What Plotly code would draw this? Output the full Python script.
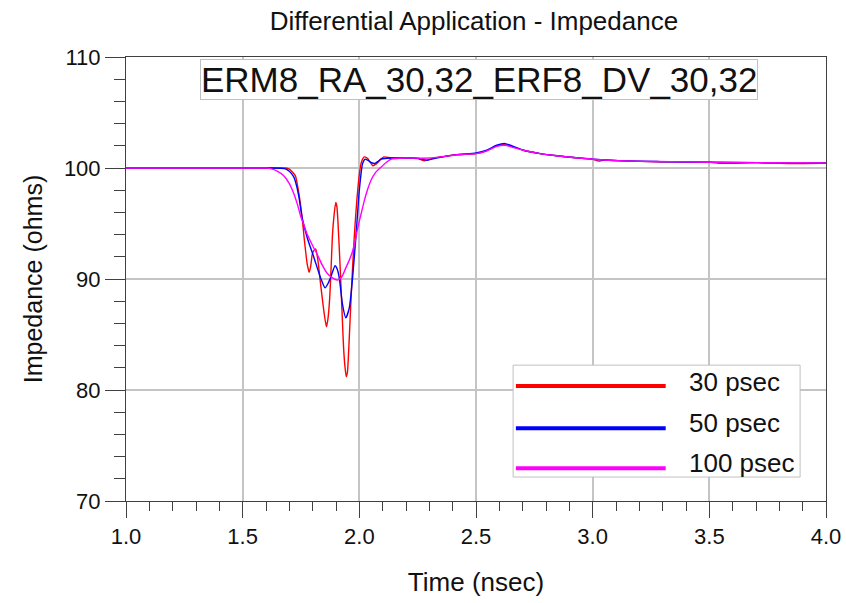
import plotly.graph_objects as go

# ---------------- data ----------------
series_names = ["30 psec", "50 psec", "100 psec"]
series_colors = ["#ff0000", "#0000ff", "#ff00ff"]

t_30 = [1.0, 1.6, 1.685, 1.70, 1.715, 1.726, 1.741, 1.755, 1.765, 1.777, 1.785, 1.792, 1.798, 1.806,
        1.813, 1.823, 1.832, 1.841, 1.850, 1.859, 1.866, 1.873, 1.879, 1.885, 1.892, 1.899, 1.904,
        1.909, 1.915, 1.921, 1.927, 1.932, 1.938, 1.944, 1.949, 1.954, 1.959, 1.964, 1.971, 1.978,
        1.986, 1.993, 2.0, 2.007, 2.015, 2.022, 2.036, 2.047, 2.058, 2.068, 2.079, 2.092, 2.105,
        2.137, 2.2, 2.25, 2.28, 2.31, 2.35, 2.417, 2.5, 2.546, 2.589, 2.625, 2.66, 2.703, 2.775,
        2.847, 2.918, 3.0, 3.026, 3.05, 3.133, 3.2, 3.277, 3.506, 3.55, 3.706, 3.85, 4.0]
z_30 = [100, 100, 100, 99.9, 99.6, 99.3, 97.7, 95.5, 93.4, 91.3, 90.6, 91.2, 92.2, 92.6,
        92.7, 91.6, 89.9, 88.3, 86.8, 85.7, 86.5, 88.3, 91.0, 94.0, 95.8, 96.9, 96.5,
        94.9, 92.3, 89.5, 86.5, 84.0, 82.2, 81.2, 81.6, 83.4, 85.7, 88.0, 91.0, 93.7,
        96.2, 98.0, 99.4, 100.4, 100.85, 101.0, 100.85, 100.5, 100.2, 100.3, 100.5, 100.8, 101.0,
        100.9, 100.9, 100.85, 100.65, 100.85, 101.0, 101.2, 101.3, 101.55, 102.0, 102.1, 101.9, 101.6, 101.3,
        101.1, 100.94, 100.78, 100.62, 100.72, 100.64, 100.6, 100.56, 100.52, 100.42, 100.48, 100.40, 100.45]

t_50 = [1.0, 1.6, 1.68, 1.70, 1.719, 1.731, 1.741, 1.755, 1.777, 1.806, 1.834, 1.853, 1.866, 1.878,
        1.896, 1.905, 1.914, 1.928, 1.942, 1.957, 1.971, 1.986, 2.0, 2.014, 2.025, 2.036, 2.05,
        2.065, 2.08, 2.094, 2.137, 2.2, 2.25, 2.29, 2.33, 2.417, 2.5, 2.546, 2.589, 2.625, 2.66,
        2.703, 2.775, 2.847, 2.918, 3.0, 3.05, 3.133, 3.277, 3.3, 3.506, 3.706, 3.9, 4.0]
z_50 = [100, 100, 99.95, 99.7, 99.2, 98.4, 97.4, 95.5, 93.7, 91.9, 90.1, 89.2, 89.6, 90.2,
        91.2, 90.9, 90.1, 87.7, 86.5, 87.4, 90.1, 94.0, 98.0, 100.4, 100.8, 100.7, 100.5,
        100.4, 100.6, 100.8, 100.9, 100.9, 100.88, 100.7, 100.9, 101.2, 101.35, 101.6, 102.05, 102.2, 101.95,
        101.6, 101.3, 101.1, 100.94, 100.8, 100.72, 100.64, 100.58, 100.55, 100.52, 100.48, 100.44, 100.45]

t_100 = [1.0, 1.5, 1.6, 1.62, 1.65, 1.676, 1.70, 1.719, 1.735, 1.748, 1.762, 1.777, 1.80, 1.82,
         1.84, 1.863, 1.885, 1.906, 1.925, 1.942, 1.957, 1.971, 1.983, 1.993, 2.008, 2.022, 2.036,
         2.05, 2.07, 2.094, 2.115, 2.137, 2.2, 2.274, 2.35, 2.417, 2.5, 2.546, 2.589, 2.625, 2.66,
         2.703, 2.775, 2.847, 2.918, 3.0, 3.133, 3.277, 3.506, 3.706, 4.0]
z_100 = [100, 100, 100, 99.95, 99.7, 99.3, 98.6, 97.7, 96.7, 95.7, 94.9, 94.0, 93.0, 92.2,
         91.3, 90.5, 90.1, 89.9, 90.2, 91.0, 91.7, 92.5, 93.5, 94.6, 95.9, 97.1, 98.1,
         98.9, 99.6, 100.1, 100.5, 100.8, 100.9, 100.88, 101.0, 101.2, 101.3, 101.55, 101.95, 102.05, 101.85,
         101.6, 101.3, 101.1, 100.94, 100.79, 100.64, 100.58, 100.52, 100.48, 100.45]

x_ticks = [1.0, 1.5, 2.0, 2.5, 3.0, 3.5, 4.0]
y_ticks = [70, 80, 90, 100, 110]

chart_title = "Differential Application - Impedance"
box_label = "ERM8_RA_30,32_ERF8_DV_30,32"
x_title = "Time (nsec)"
y_title = "Impedance (ohms)"

# ---------------- figure ----------------
FONT = "Liberation Sans, Arial, sans-serif"
fig = go.Figure()
for t, z, name, col in zip([t_30, t_50, t_100], [z_30, z_50, z_100], series_names, series_colors):
    fig.add_trace(go.Scatter(x=t, y=z, mode="lines", name=name,
                             line=dict(color=col, width=1.4, shape="spline", smoothing=0.6),
                             showlegend=False))

axis_common = dict(showline=True, linecolor="#404040", linewidth=1, mirror=True,
                   showgrid=True, gridcolor="#c4c4c4", gridwidth=2, zeroline=False,
                   ticks="outside", tickcolor="#404040", tickwidth=1, automargin=False,
                   tickfont=dict(family=FONT, size=22, color="#111111"))

fig.update_xaxes(range=[1.0, 4.0], tickvals=x_ticks, ticktext=[f"{v:.1f}" for v in x_ticks],
                 ticklen=16,
                 minor=dict(dtick=0.1, ticks="outside", ticklen=9, tickcolor="#404040", showgrid=False),
                 title=dict(text=x_title, font=dict(family=FONT, size=26, color="#111111"), standoff=24),
                 **axis_common)
fig.update_yaxes(range=[70, 110], tickvals=y_ticks, ticklen=20,
                 minor=dict(dtick=2, ticks="outside", ticklen=11, tickcolor="#404040", showgrid=False),
                 title=dict(text=y_title, font=dict(family=FONT, size=25, color="#111111"), standoff=14),
                 **axis_common)

# label box at top
fig.add_annotation(xref="paper", yref="paper", x=0.504, y=0.995, xanchor="center", yanchor="top",
                   text=box_label, showarrow=False,
                   font=dict(family=FONT, size=35, color="#111111"),
                   bgcolor="white", bordercolor="#c0c0c0", borderwidth=1, borderpad=0)

# manual legend (long line samples as in the original)
fig.add_shape(type="rect", xref="paper", yref="paper", x0=0.553, x1=0.963, y0=0.054, y1=0.306,
              line=dict(color="#c0c0c0", width=1), fillcolor="white", layer="above")
leg_line_y = [0.259, 0.164, 0.074]
leg_text_y = [0.268, 0.176, 0.086]
for name, col, ly, ty in zip(series_names, series_colors, leg_line_y, leg_text_y):
    fig.add_shape(type="line", xref="paper", yref="paper", x0=0.557, x1=0.771, y0=ly, y1=ly,
                  line=dict(color=col, width=4), layer="above")
    fig.add_annotation(xref="paper", yref="paper", x=0.801, y=ty, xanchor="left", yanchor="middle",
                       text=name, showarrow=False,
                       font=dict(family=FONT, size=26, color="#111111"))

fig.update_layout(
    width=846, height=603,
    margin=dict(l=126, r=20, t=57, b=102, pad=0),
    paper_bgcolor="white", plot_bgcolor="white",
    title=dict(text=chart_title, x=0.497, xref="paper", y=0.966, yref="container", yanchor="middle",
               font=dict(family=FONT, size=26, color="#111111")),
)

# remove the browser's default 8px body margin so the figure sits at the page origin
fig.write_html("out.html", config={"displayModeBar": False},
               post_script="document.body.style.margin='0';")
